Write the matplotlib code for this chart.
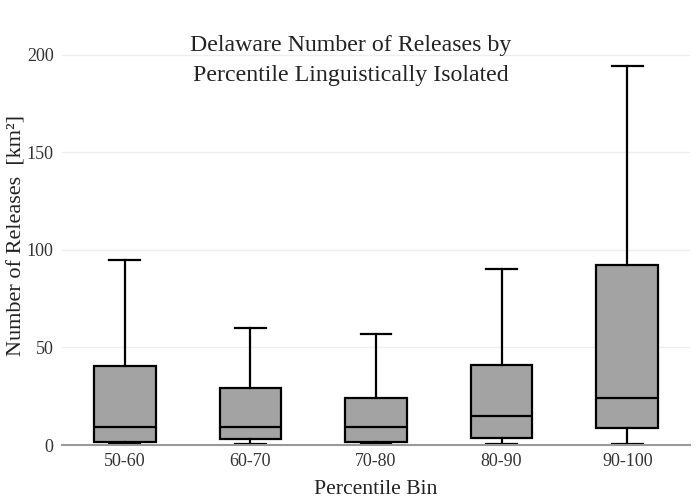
import matplotlib.pyplot as plt

plt.rcParams['font.family'] = ['Liberation Serif', 'DejaVu Serif']

# percentile bins and box statistics
bins = ['50-60', '60-70', '70-80', '80-90', '90-100']
lower_whisker = [0.3, 0.3, 0.3, 0.3, 0.3]
q1 = [1.4, 2.9, 1.4, 3.6, 8.5]
median = [9.0, 9.0, 9.0, 15.0, 24.2]
q3 = [40.4, 29.4, 24.2, 41.1, 92.0]
upper_whisker = [94.7, 60.1, 56.8, 90.0, 194.2]

stats = []
for i, name in enumerate(bins):
    stats.append({'label': name, 'whislo': lower_whisker[i], 'q1': q1[i],
                  'med': median[i], 'q3': q3[i], 'whishi': upper_whisker[i]})

fig = plt.figure(figsize=(7, 5), dpi=100)
ax = fig.add_axes([62 / 700, 55 / 500, 628 / 700, 405 / 500])

ax.bxp(stats, positions=range(len(bins)), widths=0.49, showfliers=False,
       patch_artist=True,
       boxprops=dict(facecolor='#a3a3a3', edgecolor='black', linewidth=1.6),
       medianprops=dict(color='black', linewidth=1.6),
       whiskerprops=dict(color='black', linewidth=1.6),
       capprops=dict(color='black', linewidth=1.6),
       capwidths=0.245)

ax.set_xlim(-0.5, len(bins) - 0.5)
ax.set_ylim(0, 207.5)
ax.set_yticks([0, 50, 100, 150, 200])
ax.yaxis.grid(True, color='#eeeeee', linewidth=1)
ax.set_axisbelow(True)
for side in ['top', 'right', 'left']:
    ax.spines[side].set_visible(False)
ax.spines['bottom'].set_color('#999999')
ax.spines['bottom'].set_linewidth(1.5)
ax.tick_params(axis='both', length=0, labelsize=13, colors='#333333', pad=6)

ax.set_xlabel('Percentile Bin', fontsize=15.6, color='#222222', labelpad=7)
fig.text(17 / 700, 1 - 235 / 500, 'Number of Releases  [km²]', rotation=90,
         ha='center', va='center', fontsize=16, color='#222222')

fig.text(0.501, 0.93, 'Delaware Number of Releases by\nPercentile Linguistically Isolated',
         ha='center', va='top', fontsize=17.2, color='#222222', linespacing=1.55)

fig.savefig('out.png', dpi=100)
